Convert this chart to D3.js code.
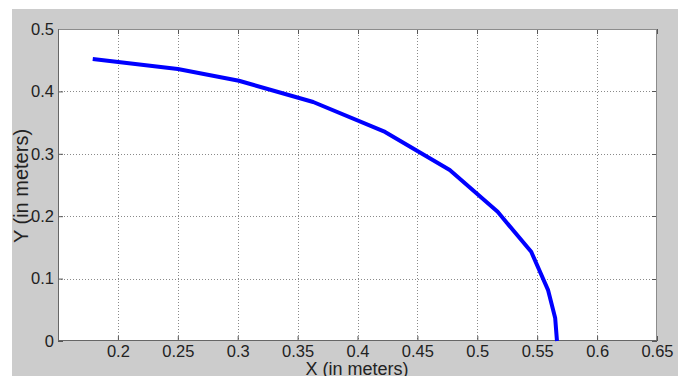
<!DOCTYPE html>
<html><head><meta charset="utf-8">
<script src="https://cdn.jsdelivr.net/npm/d3@7"></script>
<style>body{margin:0;background:#fff}svg{display:block}text{font-family:Arial,"Liberation Sans",sans-serif}</style>
</head><body>
<svg id="c" width="686" height="376"></svg>
<script>
const xValues = [0.179, 0.250, 0.301, 0.363, 0.423, 0.477, 0.517, 0.545, 0.559, 0.565, 0.5665];
const yValues = [0.452, 0.436, 0.417, 0.383, 0.335, 0.274, 0.207, 0.143, 0.082, 0.037, 0.0];
const xTicks = [0.2, 0.25, 0.3, 0.35, 0.4, 0.45, 0.5, 0.55, 0.6, 0.65];
const yTicks = [0, 0.1, 0.2, 0.3, 0.4, 0.5];
const xLabel = "X (in meters)";
const yLabel = "Y (in meters)";

const svg = d3.select("#c");
const L = 58, R = 657, T = 29, B = 341;
svg.append("rect").attr("x", 12).attr("y", 9).attr("width", 666).attr("height", 367).attr("fill", "#cccccc");
svg.append("rect").attr("x", L).attr("y", T).attr("width", R - L).attr("height", B - T).attr("fill", "#fff");

const x = d3.scaleLinear().domain([0.15, 0.65]).range([L, R]);
const y = d3.scaleLinear().domain([0, 0.5]).range([B, T]);

const grid = svg.append("g").attr("stroke", "#8a8a8a").attr("stroke-width", 1).attr("stroke-dasharray", "1,2");
grid.selectAll(".gx").data(xTicks.filter(d => d < 0.65)).join("line")
  .attr("x1", d => Math.round(x(d)) + 0.5).attr("x2", d => Math.round(x(d)) + 0.5).attr("y1", T).attr("y2", B);
grid.selectAll(".gy").data(yTicks.filter(d => d > 0 && d < 0.5)).join("line")
  .attr("y1", d => Math.round(y(d)) + 0.5).attr("y2", d => Math.round(y(d)) + 0.5).attr("x1", L).attr("x2", R);

const xAxis = svg.append("g").attr("transform", `translate(0,${B})`)
  .call(d3.axisBottom(x).tickValues(xTicks).tickSize(-5).tickPadding(4).tickFormat(d => d3.format("")(+d.toFixed(2))));
const yAxis = svg.append("g").attr("transform", `translate(${L},0)`)
  .call(d3.axisLeft(y).tickValues(yTicks).tickSize(-5).tickPadding(4).tickFormat(d => d3.format("")(+d.toFixed(1))));
[xAxis, yAxis].forEach(a => {
  a.select(".domain").remove();
  a.selectAll(".tick line").attr("stroke", "#555");
  a.selectAll(".tick text").attr("font-size", 16.5).attr("fill", "#222").attr("font-family", "Arial, 'Liberation Sans', sans-serif");
});
svg.append("g").selectAll("line").data(yTicks).join("line")
  .attr("x1", R - 5).attr("x2", R).attr("y1", d => Math.round(y(d)) + 0.5).attr("y2", d => Math.round(y(d)) + 0.5).attr("stroke", "#555");
svg.append("g").selectAll("line").data(xTicks).join("line")
  .attr("y1", T).attr("y2", T + 5).attr("x1", d => Math.round(x(d)) + 0.5).attr("x2", d => Math.round(x(d)) + 0.5).attr("stroke", "#555");

svg.append("rect").attr("x", L + 0.5).attr("y", T + 0.5).attr("width", R - L - 1).attr("height", B - T - 1)
  .attr("fill", "none").attr("stroke", "#8c8c8c").attr("stroke-width", 1);
svg.append("line").attr("x1", L + 0.5).attr("x2", L + 0.5).attr("y1", T).attr("y2", B).attr("stroke", "#666");
svg.append("line").attr("x1", L).attr("x2", R).attr("y1", B - 0.5).attr("y2", B - 0.5).attr("stroke", "#666");

const pts = xValues.map((v, i) => [v, yValues[i]]);
svg.append("path").datum(pts)
  .attr("d", d3.line().x(d => x(d[0])).y(d => y(d[1])))
  .attr("fill", "none").attr("stroke", "#0000ff").attr("stroke-width", 4).attr("stroke-linejoin", "round");

svg.append("text").attr("x", 357).attr("y", 375).attr("text-anchor", "middle").attr("font-size", 18).attr("fill", "#222").text(xLabel);
svg.append("text").attr("transform", "translate(28,186) rotate(-90)").attr("text-anchor", "middle").attr("font-size", 20).attr("fill", "#222").text(yLabel);
</script>
</body></html>
